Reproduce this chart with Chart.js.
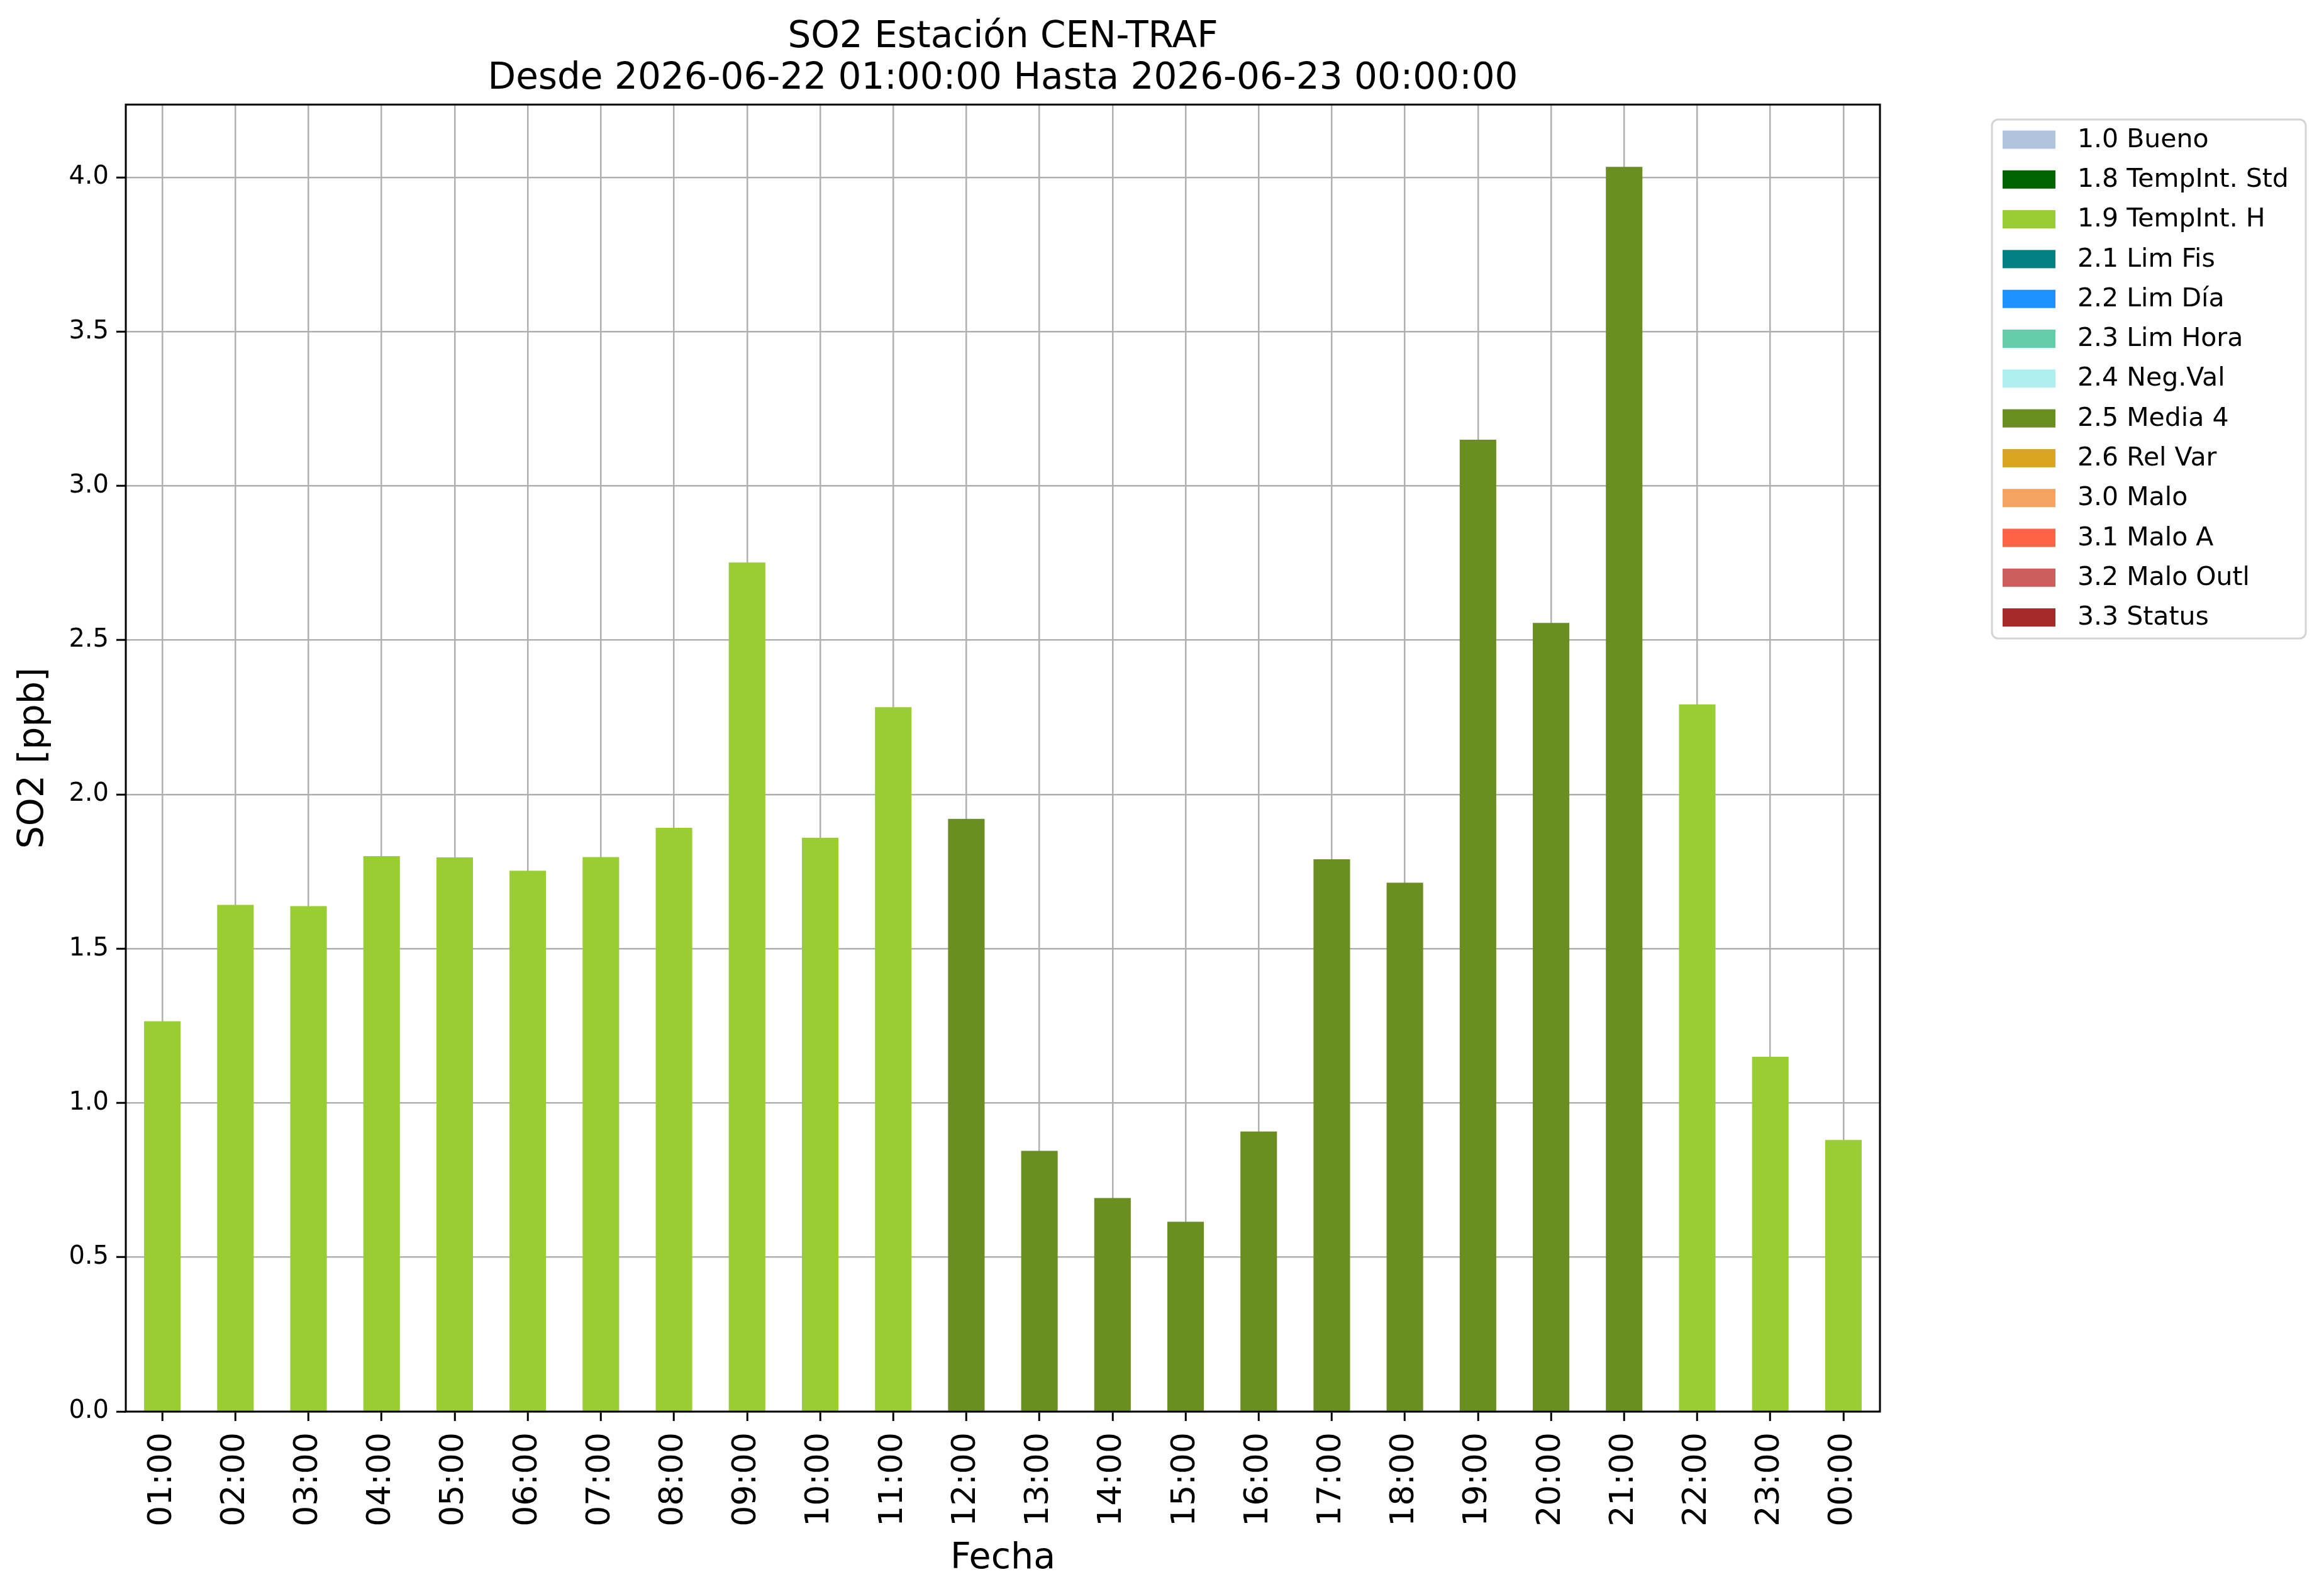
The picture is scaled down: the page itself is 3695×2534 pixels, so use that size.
<!DOCTYPE html>
<html>
<head>
<meta charset="utf-8">
<title>SO2 Estación CEN-TRAF</title>
<script src="https://cdn.jsdelivr.net/npm/chart.js@4.4.1/dist/chart.umd.min.js"></script>
<style>
  html, body { margin: 0; padding: 0; background: #fff; }
  #wrap { width: 3695px; height: 2534px; }
</style>
</head>
<body>
<div id="wrap"><canvas id="chart" width="3695" height="2534"></canvas></div>
<script>
const hours = ['01:00', '02:00', '03:00', '04:00', '05:00', '06:00', '07:00', '08:00',
  '09:00', '10:00', '11:00', '12:00', '13:00', '14:00', '15:00', '16:00',
  '17:00', '18:00', '19:00', '20:00', '21:00', '22:00', '23:00', '00:00'];

const so2Values = [1.265, 1.642, 1.638, 1.800, 1.796, 1.753, 1.797, 1.892,
  2.752, 1.860, 2.283, 1.921, 0.845, 0.692, 0.615, 0.908,
  1.790, 1.714, 3.150, 2.556, 4.034, 2.292, 1.150, 0.880];

const hourFlags = ['1.9', '1.9', '1.9', '1.9', '1.9', '1.9', '1.9', '1.9',
  '1.9', '1.9', '1.9', '2.5', '2.5', '2.5', '2.5', '2.5',
  '2.5', '2.5', '2.5', '2.5', '2.5', '1.9', '1.9', '1.9'];

const flagCodes = ['1.0', '1.8', '1.9', '2.1', '2.2', '2.3', '2.4', '2.5', '2.6', '3.0', '3.1', '3.2', '3.3'];
const flagNames = ['Bueno', 'TempInt. Std', 'TempInt. H', 'Lim Fis', 'Lim Día', 'Lim Hora',
  'Neg.Val', 'Media 4', 'Rel Var', 'Malo', 'Malo A', 'Malo Outl', 'Status'];
const flagColors = ['#B0C4DE', '#006400', '#9ACD32', '#008080', '#1E90FF', '#66CDAA',
  '#AFEEEE', '#6B8E23', '#DAA520', '#F4A460', '#FF6347', '#CD5C5C', '#A52A2A'];

const yTicks = [0.0, 0.5, 1.0, 1.5, 2.0, 2.5, 3.0, 3.5, 4.0];
const yMax = 4.236;

const FONT = 'DejaVu Sans';

// one dataset per flag, only the hours with that flag get a value
function buildDatasets() {
  const sets = [];
  for (let i = 0; i < flagCodes.length; i++) {
    const data = so2Values.map((v, j) => hourFlags[j] === flagCodes[i] ? v : null);
    sets.push({
      label: flagCodes[i] + ' ' + flagNames[i],
      data: data,
      backgroundColor: flagColors[i],
      borderWidth: 0,
      barPercentage: 0.5,
      categoryPercentage: 1.0,
    });
  }
  return sets;
}

// black frame round the plot area
const framePlugin = {
  id: 'frame',
  afterDraw(chart) {
    const a = chart.chartArea;
    const ctx = chart.ctx;
    ctx.save();
    ctx.strokeStyle = '#000';
    ctx.lineWidth = 3;
    ctx.strokeRect(a.left, a.top, a.right - a.left, a.bottom - a.top);
    ctx.restore();
  }
};

// legend box outside the plot, like matplotlib's bbox_to_anchor
const legendPlugin = {
  id: 'sideLegend',
  afterDraw(chart) {
    const ctx = chart.ctx;
    const x = 3167, y = 190, w = 499, h = 825, r = 10;
    ctx.save();
    ctx.fillStyle = '#fff';
    ctx.strokeStyle = '#d4d4d4';
    ctx.lineWidth = 3;
    ctx.beginPath();
    ctx.roundRect(x, y, w, h, r);
    ctx.fill();
    ctx.stroke();

    ctx.font = '41px "' + FONT + '"';
    ctx.textBaseline = 'middle';
    ctx.textAlign = 'left';
    for (let i = 0; i < flagCodes.length; i++) {
      const rowY = 222 + i * 63.3;
      ctx.fillStyle = flagColors[i];
      ctx.fillRect(3184, rowY - 14.5, 84, 29);
      ctx.fillStyle = '#000';
      ctx.fillText(flagCodes[i] + ' ' + flagNames[i], 3303, rowY + 1);
    }
    ctx.restore();
  }
};

const ctx = document.getElementById('chart').getContext('2d');
const chart = new Chart(ctx, {
  type: 'bar',
  data: {
    labels: hours,
    datasets: buildDatasets(),
  },
  options: {
    responsive: false,
    animation: false,
    devicePixelRatio: 1,
    layout: { padding: { left: 0, right: 706, top: 0, bottom: 0 } },
    plugins: {
      legend: { display: false },
      tooltip: { enabled: false },
      title: {
        display: true,
        fullSize: false,
        text: ['SO2 Estación CEN-TRAF', 'Desde 2026-06-22 01:00:00 Hasta 2026-06-23 00:00:00'],
        color: '#000',
        font: { family: FONT, size: 58, weight: 'normal', lineHeight: 1.14 },
        padding: { top: 27, bottom: 7 },
      },
    },
    scales: {
      x: {
        stacked: true,
        z: 1,
        grid: {
          offset: false,
          color: '#b0b0b0',
          lineWidth: 2.5,
          drawTicks: true,
          tickLength: 15,
          tickColor: '#000',
          tickWidth: 3,
        },
        border: { display: false },
        ticks: {
          color: '#000',
          font: { family: FONT, size: 52 },
          minRotation: 90,
          maxRotation: 90,
          autoSkip: false,
          padding: 18,
        },
        title: {
          display: true,
          text: 'Fecha',
          color: '#000',
          font: { family: FONT, size: 57 },
          padding: { top: 0, bottom: 22 },
        },
        afterFit(scale) { scale.height = 290; },
      },
      y: {
        stacked: true,
        z: 1,
        min: 0,
        max: yMax,
        afterBuildTicks(scale) {
          scale.ticks = yTicks.map(v => ({ value: v }));
        },
        grid: {
          color: '#b0b0b0',
          lineWidth: 2.5,
          drawTicks: true,
          tickLength: 15,
          tickColor: '#000',
          tickWidth: 3,
        },
        border: { display: false },
        ticks: {
          color: '#000',
          font: { family: FONT, size: 40 },
          padding: 12,
          callback: v => Number(v).toFixed(1),
        },
        title: {
          display: true,
          text: 'SO2 [ppb]',
          color: '#000',
          font: { family: FONT, size: 57 },
          padding: { top: 20, bottom: 0 },
        },
        afterFit(scale) { scale.width = 200; },
      },
    },
  },
  plugins: [framePlugin, legendPlugin],
});
</script>
</body>
</html>
